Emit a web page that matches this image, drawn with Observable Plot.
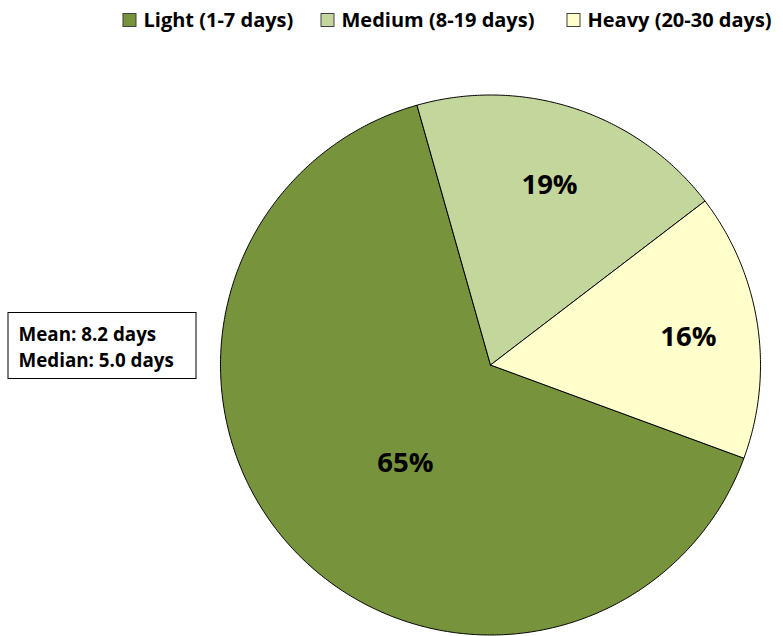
<!DOCTYPE html>
<html>
<head>
<meta charset="utf-8">
<script src="https://cdn.jsdelivr.net/npm/d3@7"></script>
<script src="https://cdn.jsdelivr.net/npm/@observablehq/plot@0.6"></script>
<style>
  html, body { margin: 0; padding: 0; background: #fff; }
</style>
</head>
<body>
<div id="chart"></div>
<script>
// ---- data ----
const categories = ["Light (1-7 days)", "Medium (8-19 days)", "Heavy (20-30 days)"];
const shares = [65, 19, 16];
const sliceLabels = ["65%", "19%", "16%"];
const colors = ["#77933C", "#C3D69B", "#FFFFCC"];
const statsLines = ["Mean: 8.2 days", "Median: 5.0 days"];

// ---- layout (pixels) ----
const W = 783, H = 636;
const pie = {cx: 490, cy: 364.5, r: 270, start: 110.2};
const labelPos = [{f: 0.482, da: -6.4}, {f: 0.70, da: -0.2}, {f: 0.74, da: 0.7}];
const legendX = [123, 321, 567];
const legendTextGap = 20;
const box = {x1: 8, x2: 196, y1: 312.5, y2: 378.5, tx: 18};
const font = "'Open Sans', sans-serif";

// ---- geometry from data ----
const total = d3.sum(shares);
let acc = pie.start;
const slices = shares.map((v, i) => {
  const a0 = acc, a1 = acc + v / total * 360;
  acc = a1;
  return {i, a0, a1, mid: (a0 + a1) / 2};
});
const pt = (deg, rr) => {
  const t = deg * Math.PI / 180;
  return {x: pie.cx + rr * Math.sin(t), y: pie.cy - rr * Math.cos(t)};
};
const polys = slices.map(s => {
  const pts = [{x: pie.cx, y: pie.cy}];
  const n = Math.max(2, Math.ceil((s.a1 - s.a0) / 0.5));
  for (let k = 0; k <= n; k++) pts.push(pt(s.a0 + (s.a1 - s.a0) * k / n, pie.r));
  pts.push({x: pie.cx, y: pie.cy});
  return pts;
});
const labelData = slices.map((s, i) => {
  const p = pt(s.mid + labelPos[i].da, pie.r * labelPos[i].f);
  return {x: p.x, y: p.y, text: sliceLabels[i]};
});
const legendData = categories.map((c, i) => ({
  x1: legendX[i], x2: legendX[i] + 13, y1: 13.5, y2: 26.5,
  tx: legendX[i] + legendTextGap, ty: 20, text: c, color: colors[i]
}));

const plot = Plot.plot({
  width: W, height: H,
  margin: 0,
  x: {domain: [0, W], range: [0, W], axis: null},
  y: {domain: [0, H], range: [0, H], axis: null},
  style: {fontFamily: font, background: "#fff"},
  marks: [
    ...polys.map((p, i) => Plot.line(p, {
      x: "x", y: "y", fill: colors[i], stroke: "#000", strokeWidth: 1, strokeLinejoin: "round", curve: "linear"
    })),
    Plot.text(labelData, {
      x: "x", y: "y", text: "text", fontSize: 27.5, fontWeight: "bold", fill: "#000", lineAnchor: "middle"
    }),
    Plot.rect(legendData, {
      x1: "x1", x2: "x2", y1: "y1", y2: "y2", fill: "color", stroke: "#404040", strokeWidth: 1
    }),
    Plot.text(legendData, {
      x: "tx", y: "ty", text: "text", textAnchor: "start", lineAnchor: "middle",
      fontSize: 20, fontWeight: "bold", fill: "#000"
    }),
    Plot.rect([box], {
      x1: "x1", x2: "x2", y1: "y1", y2: "y2", fill: "#fff", stroke: "#000", strokeWidth: 1
    }),
    Plot.text([statsLines.join("\n")], {
      x: box.tx, y: (box.y1 + box.y2) / 2, text: d => d, textAnchor: "start", lineAnchor: "middle",
      fontSize: 18.8, lineHeight: 1.38, fontWeight: "bold", fill: "#000"
    })
  ]
});
document.getElementById("chart").appendChild(plot);
</script>
</body>
</html>
